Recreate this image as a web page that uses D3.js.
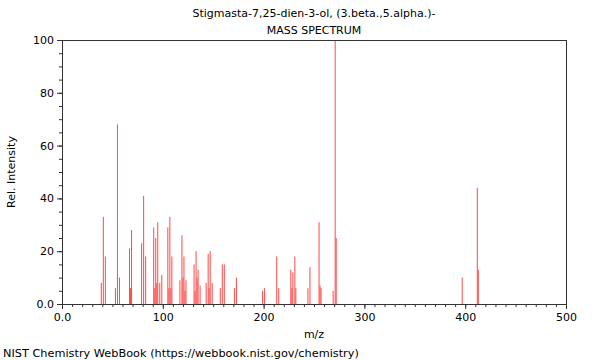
<!DOCTYPE html>
<html><head><meta charset="utf-8">
<script src="https://cdn.jsdelivr.net/npm/d3@7"></script>
<style>
body{margin:0;background:#fff;}
svg{display:block;font-family:"DejaVu Sans",sans-serif;}
</style></head>
<body><svg id="c" width="600" height="360"></svg>
<script>
const titleLines = ["Stigmasta-7,25-dien-3-ol, (3.beta.,5.alpha.)-", "MASS SPECTRUM"];
const mz = [39,41,43,53,55,57,67,68,69,79,81,83,91,92,93,94,95,97,99,105,106,107,108,109,117,119,120,121,122,123,131,132,133,134,135,137,143,145,146,147,149,157,159,161,171,173,199,201,213,215,227,228,229,231,232,244,246,255,256,257,269,271,272,397,412,413];
const intensity = [8,33,18,6,68,10,21,6,28,23,41,18,29,6,25,8,31,8,11,29,6,33,6,18,9,26,10,18,5,9,15,5,20,10,13,7,8,19,6,20,8,6,15,15,6,10,5,6,18,6,13,6,12,18,6,6,14,31,7,6,5,100,25,10,44,13];
const xTicks = [0,100,200,300,400,500];
const yTicks = [0,20,40,60,80,100];
const xLabel = "m/z", yLabel = "Rel. Intensity";
const footer = "NIST Chemistry WebBook (https://webbook.nist.gov/chemistry)";

const svg = d3.select("#c");
const m = {l:62, t:40, r:34, b:56};
const W = 600 - m.l - m.r, H = 360 - m.t - m.b;
const x = d3.scaleLinear().domain([0,500]).range([m.l, m.l+W]);
const y = d3.scaleLinear().domain([0,100]).range([m.t+H, m.t]);
const fmt = d => d === 0 ? "0.0" : String(d);

// peaks
svg.append("g").selectAll("line").data(mz).join("line")
  .attr("x1", d => x(d)).attr("x2", d => x(d))
  .attr("y1", y(0)).attr("y2", (d,i) => y(intensity[i]))
  .attr("stroke", "#ff4848").attr("stroke-width", 1);

// minor ticks
svg.append("g").attr("transform", `translate(0,${y(0)})`)
  .call(d3.axisBottom(x).tickValues(d3.range(0,501,10)).tickSize(3).tickFormat(""))
  .call(g => g.select(".domain").remove());
svg.append("g").attr("transform", `translate(${x(0)},0)`)
  .call(d3.axisLeft(y).tickValues(d3.range(0,101,5)).tickSize(3).tickFormat(""))
  .call(g => g.select(".domain").remove());
// major axes
const xa = svg.append("g").attr("transform", `translate(0,${y(0)})`)
  .call(d3.axisBottom(x).tickValues(xTicks).tickSize(5).tickSizeOuter(0).tickFormat(fmt).tickPadding(4));
const ya = svg.append("g").attr("transform", `translate(${x(0)},0)`)
  .call(d3.axisLeft(y).tickValues(yTicks).tickSize(5).tickSizeOuter(0).tickFormat(fmt).tickPadding(3));
svg.selectAll(".tick text").attr("font-size", 11).attr("font-family", "DejaVu Sans").attr("fill", "#000");
svg.selectAll(".tick line, .domain").attr("stroke", "#333");

// frame top/right
svg.append("line").attr("x1", x(0)).attr("x2", x(500)).attr("y1", y(100)+0.5).attr("y2", y(100)+0.5).attr("stroke", "#333");
svg.append("line").attr("x1", x(500)+0.5).attr("x2", x(500)+0.5).attr("y1", y(100)).attr("y2", y(0)).attr("stroke", "#333");

// texts
const cx = (x(0)+x(500))/2;
svg.append("text").attr("x", cx).attr("y", 17).attr("text-anchor","middle").attr("font-size", 11).text(titleLines[0]);
svg.append("text").attr("x", cx).attr("y", 34).attr("text-anchor","middle").attr("font-size", 11).text(titleLines[1]);
svg.append("text").attr("x", cx).attr("y", 338).attr("text-anchor","middle").attr("font-size", 11).text(xLabel);
svg.append("text").attr("transform", `translate(15,${(y(0)+y(100))/2}) rotate(-90)`).attr("text-anchor","middle").attr("font-size", 11).text(yLabel);
svg.append("text").attr("x", 3).attr("y", 357).attr("font-size", 11.3).text(footer);
</script></body></html>
